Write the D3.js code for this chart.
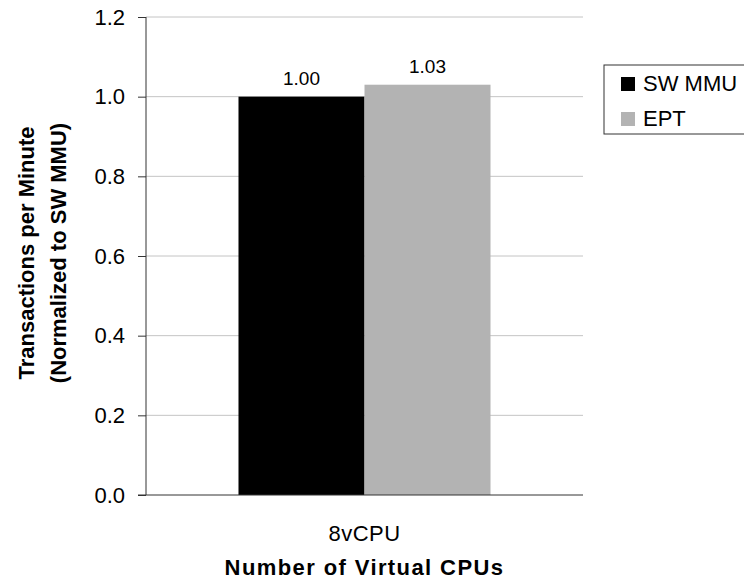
<!DOCTYPE html>
<html>
<head>
<meta charset="utf-8">
<script src="https://cdn.jsdelivr.net/npm/d3@7"></script>
<style>
  body { margin: 0; background: #fff; }
  text { font-family: "Liberation Sans", Arial, sans-serif; }
</style>
</head>
<body>
<svg id="chart" width="744" height="581"></svg>
<script>
// Chart data
const categories = ["8vCPU"];
const seriesNames = ["SW MMU", "EPT"];
const seriesColors = ["#000000", "#b3b3b3"];
const swMmuValues = [1.00];
const eptValues = [1.03];
const yTicks = [0.0, 0.2, 0.4, 0.6, 0.8, 1.0, 1.2];

const svg = d3.select("#chart");
const margin = { left: 146, right: 161, top: 17, bottom: 86 };
const W = 744, H = 581;
const plotW = W - margin.left - margin.right;
const plotH = H - margin.top - margin.bottom;
const FONT = "'Liberation Sans', Arial, sans-serif";

const g = svg.append("g").attr("transform", `translate(${margin.left},${margin.top})`);

const x0 = d3.scaleBand().domain(categories).range([0, plotW]).paddingInner(0).paddingOuter(0.367);
const x1 = d3.scaleBand().domain(seriesNames).range([0, x0.bandwidth()]).padding(0);
const y = d3.scaleLinear().domain([0, 1.2]).range([plotH, 0]);

// Horizontal gridlines
g.selectAll(".grid").data(yTicks.filter(d => d > 0)).enter().append("line")
  .attr("x1", 0).attr("x2", plotW)
  .attr("y1", d => y(d)).attr("y2", d => y(d))
  .attr("stroke", "#c4c4c4").attr("stroke-width", 1);

// Bars with value labels
const rows = categories.map((c, i) => ({ cat: c, vals: [swMmuValues[i], eptValues[i]] }));
rows.forEach(r => {
  const grp = g.append("g").attr("transform", `translate(${x0(r.cat)},0)`);
  r.vals.forEach((v, j) => {
    grp.append("rect")
      .attr("x", x1(seriesNames[j]))
      .attr("y", y(v))
      .attr("width", x1.bandwidth())
      .attr("height", y(0) - y(v))
      .attr("fill", seriesColors[j]);
    grp.append("text")
      .attr("x", x1(seriesNames[j]) + x1.bandwidth() / 2)
      .attr("y", y(v) - 11.5)
      .attr("text-anchor", "middle")
      .attr("font-size", 19)
      .attr("fill", "#000")
      .text(v.toFixed(2));
  });
});

// Y axis
const yAxis = d3.axisLeft(y).tickValues(yTicks).tickFormat(d3.format(".1f")).tickSize(8).tickPadding(13);
const ya = g.append("g").call(yAxis);
ya.select(".domain").attr("stroke", "#333").attr("d", `M0,${plotH}V0`);
ya.selectAll(".tick line").attr("stroke", "#333");
ya.selectAll(".tick text").attr("font-size", 22).attr("fill", "#000").style("font-family", FONT);

// X axis
const xAxis = d3.axisBottom(x0).tickSize(0).tickPadding(30);
const xa = g.append("g").attr("transform", `translate(0,${plotH})`).call(xAxis);
xa.select(".domain").attr("stroke", "#333").attr("d", `M-8,0H${plotW}`);
xa.selectAll(".tick text").attr("font-size", 22).attr("fill", "#000")
  .attr("letter-spacing", 0.5).style("font-family", FONT);

// Axis titles
svg.append("text")
  .attr("x", margin.left + plotW / 2).attr("y", 575)
  .attr("text-anchor", "middle").attr("font-size", 22).attr("font-weight", "bold")
  .attr("letter-spacing", 1.4)
  .text("Number of Virtual CPUs");

const yt = svg.append("text")
  .attr("transform", `translate(0,253) rotate(-90)`)
  .attr("text-anchor", "middle").attr("font-size", 22).attr("font-weight", "bold");
yt.append("tspan").attr("x", 0).attr("y", 34).text("Transactions per Minute");
yt.append("tspan").attr("x", 0).attr("y", 66).text("(Normalized to SW MMU)");

// Legend
const lg = svg.append("g").attr("transform", "translate(604,65)");
lg.append("rect").attr("x", 0).attr("y", 0).attr("width", 150).attr("height", 69)
  .attr("fill", "#fff").attr("stroke", "#333").attr("stroke-width", 1);
seriesNames.forEach((s, i) => {
  lg.append("rect").attr("x", 17).attr("y", 12 + i * 35).attr("width", 14).attr("height", 14)
    .attr("fill", seriesColors[i]);
  lg.append("text").attr("x", 39).attr("y", 26 + i * 35).attr("font-size", 22).text(s);
});
</script>
</body>
</html>
